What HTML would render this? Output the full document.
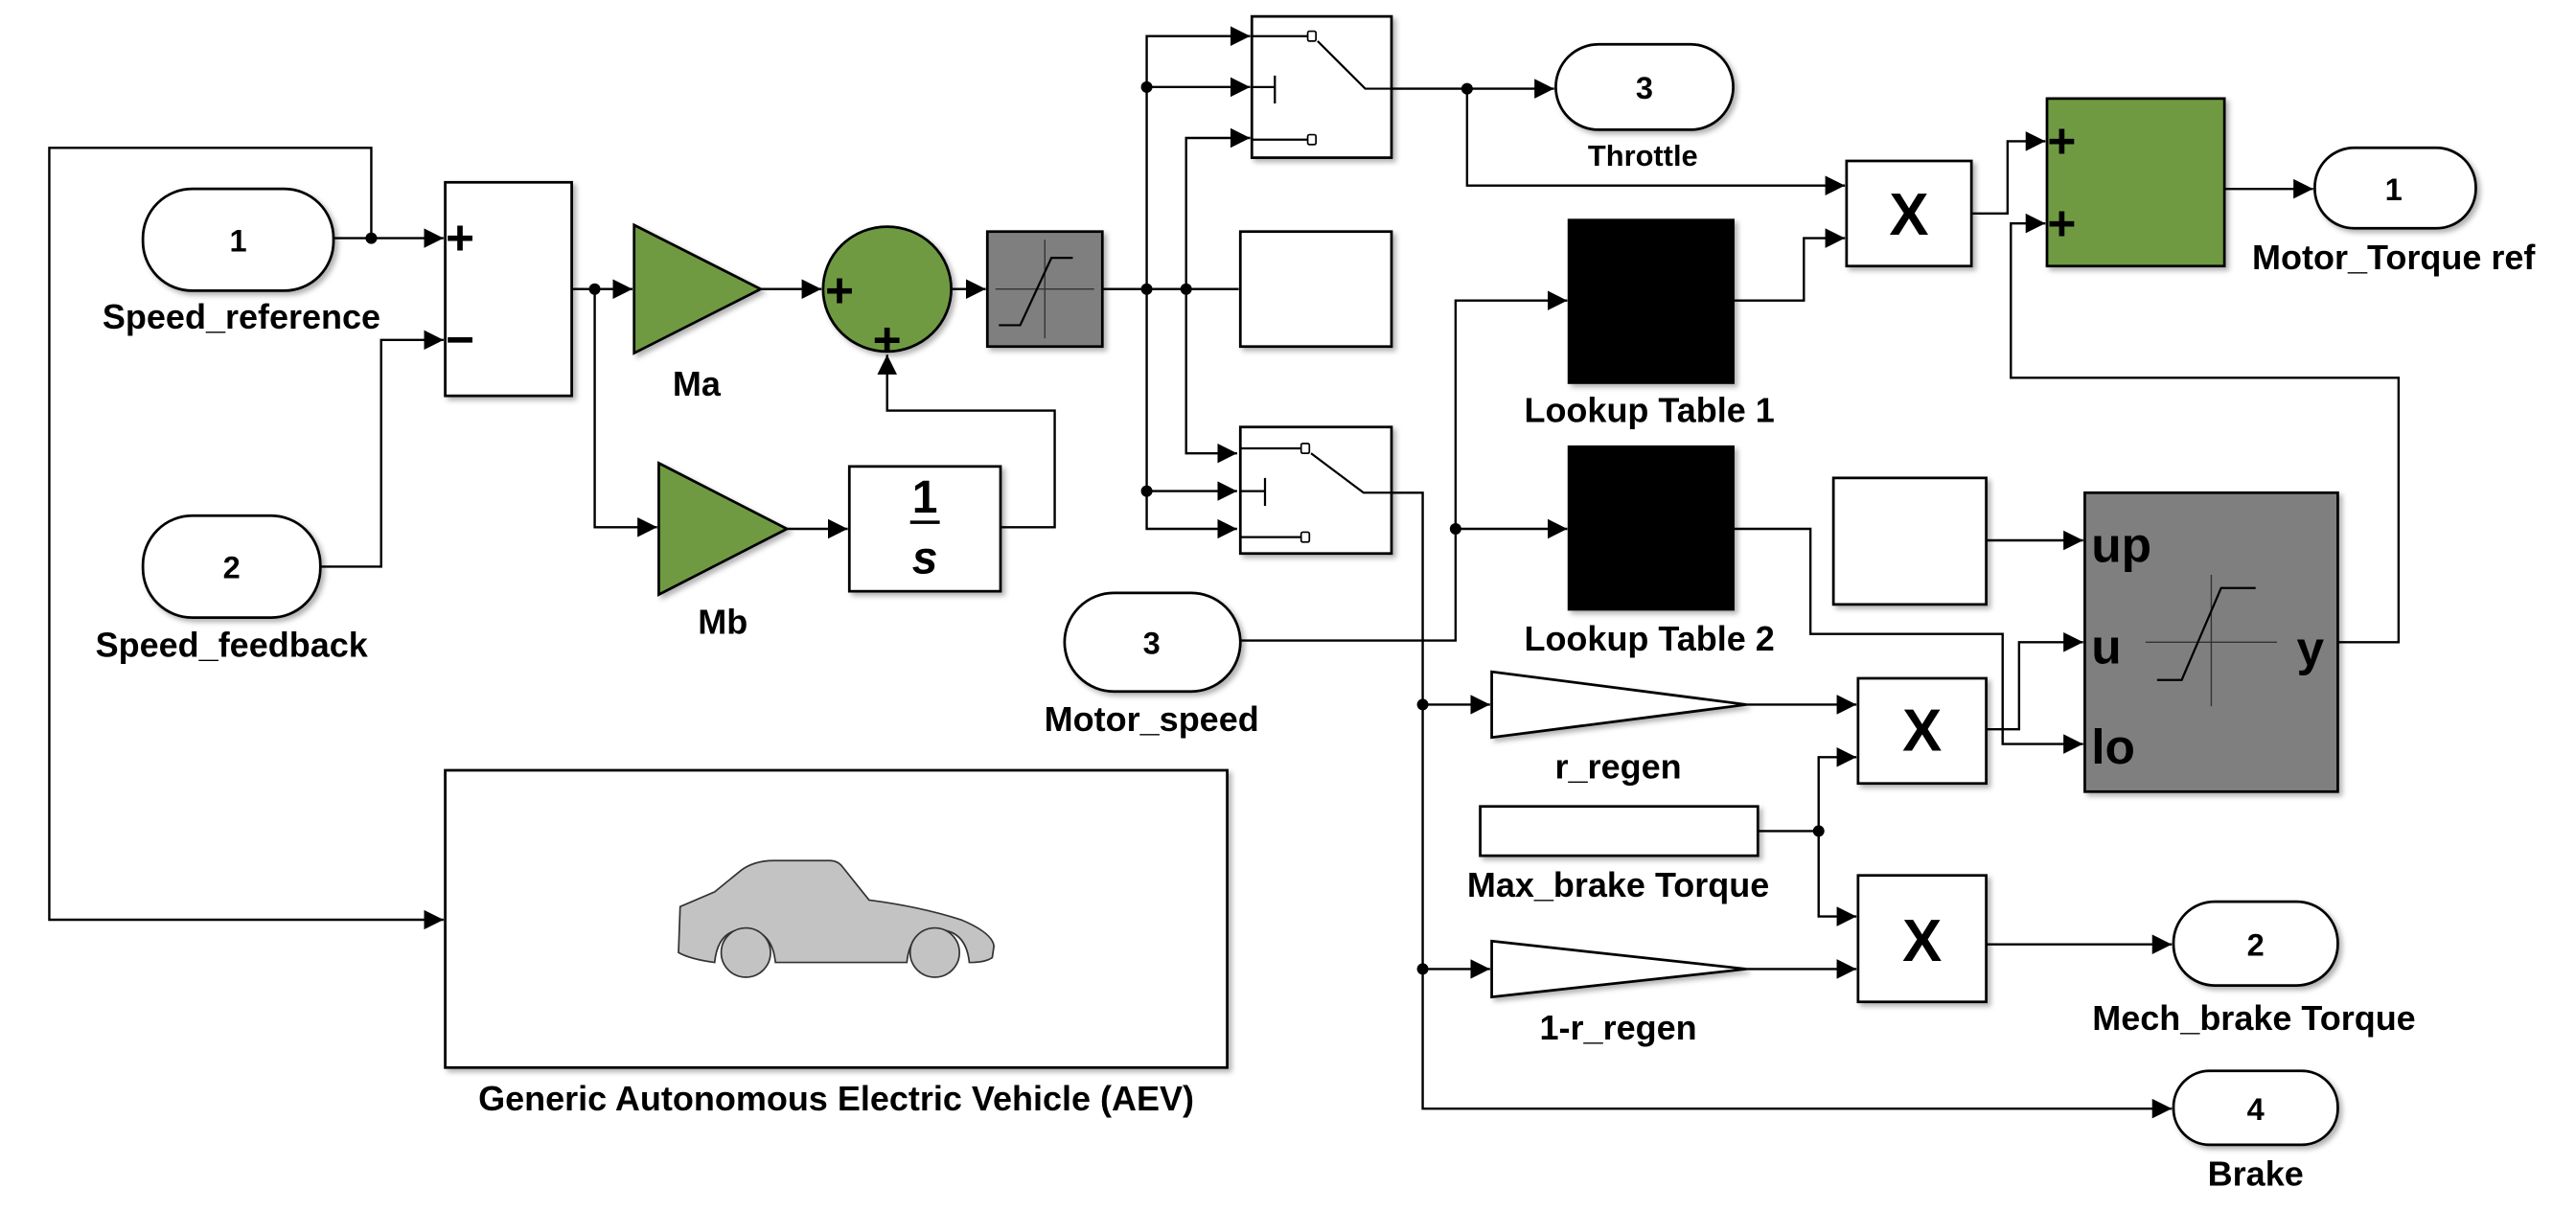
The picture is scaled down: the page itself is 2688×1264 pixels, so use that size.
<!DOCTYPE html>
<html><head><meta charset="utf-8"><style>
html,body{margin:0;padding:0;background:#fff;}
svg{display:block;}
text{font-family:"Liberation Sans",Arial,sans-serif;font-weight:bold;fill:#000;}
</style></head><body>
<svg width="2688" height="1264" viewBox="0 0 1568 737.33" preserveAspectRatio="none" xmlns="http://www.w3.org/2000/svg">
<defs>
<marker id="a" markerWidth="12" markerHeight="12" refX="12" refY="6" orient="auto" markerUnits="userSpaceOnUse">
<path d="M0,0 L12,6 L0,12 Z" fill="#000"/></marker>
<filter id="sh" x="-5%" y="-5%" width="115%" height="115%"><feDropShadow dx="2" dy="2" stdDeviation="1.5" flood-color="#000" flood-opacity="0.3"/></filter>
</defs>
<rect width="1568" height="737.33" fill="#fff"/>
<g fill="none" stroke="#000" stroke-width="1.4">
<path d="M203,145 H270" marker-end="url(#a)"/>
<path d="M226,145 V90 H30 V560 H270" marker-end="url(#a)"/>
<path d="M195,345 H232 V207 H270" marker-end="url(#a)"/>
<path d="M348,176 H385" marker-end="url(#a)"/>
<path d="M362,176 V321 H400" marker-end="url(#a)"/>
<path d="M463,176 H500" marker-end="url(#a)"/>
<path d="M479,322 H516" marker-end="url(#a)"/>
<path d="M609,321 H642 V250 H540 V216" marker-end="url(#a)"/>
<path d="M579,176 H600" marker-end="url(#a)"/>
<path d="M671,176 H754"/>
<path d="M698,176 V22 H761" marker-end="url(#a)"/>
<path d="M698,53 H761" marker-end="url(#a)"/>
<path d="M698,176 V322 H753" marker-end="url(#a)"/>
<path d="M698,299 H753" marker-end="url(#a)"/>
<path d="M722,176 V84 H761" marker-end="url(#a)"/>
<path d="M722,176 V276 H753" marker-end="url(#a)"/>
<path d="M847,54 H946" marker-end="url(#a)"/>
<path d="M893,54 V113 H1123" marker-end="url(#a)"/>
<path d="M1055,183 H1098 V145 H1123" marker-end="url(#a)"/>
<path d="M1200,130 H1222 V86 H1245" marker-end="url(#a)"/>
<path d="M1354,115 H1408" marker-end="url(#a)"/>
<path d="M1423,391 H1460 V230 H1224 V136 H1245" marker-end="url(#a)"/>
<path d="M755,390 H886 V183 H954" marker-end="url(#a)"/>
<path d="M886,322 H954" marker-end="url(#a)"/>
<path d="M847,300 H866 V675 H1322" marker-end="url(#a)"/>
<path d="M866,429 H907" marker-end="url(#a)"/>
<path d="M866,590 H907" marker-end="url(#a)"/>
<path d="M1063,429 H1130" marker-end="url(#a)"/>
<path d="M1063,590 H1130" marker-end="url(#a)"/>
<path d="M1070,506 H1107 V461 H1130" marker-end="url(#a)"/>
<path d="M1107,506 V558 H1130" marker-end="url(#a)"/>
<path d="M1208,575 H1322" marker-end="url(#a)"/>
<path d="M1209,329 H1268" marker-end="url(#a)"/>
<path d="M1055,322 H1102 V386 H1219 V453 H1268" marker-end="url(#a)"/>
<path d="M1208,444 H1229 V391 H1268" marker-end="url(#a)"/>
</g>
<g fill="#000">
<circle cx="226" cy="145" r="3.5"/><circle cx="362" cy="176" r="3.5"/>
<circle cx="698" cy="176" r="3.5"/><circle cx="722" cy="176" r="3.5"/>
<circle cx="698" cy="53" r="3.5"/><circle cx="698" cy="299" r="3.5"/>
<circle cx="893" cy="54" r="3.5"/><circle cx="886" cy="322" r="3.5"/>
<circle cx="866" cy="429" r="3.5"/><circle cx="866" cy="590" r="3.5"/>
<circle cx="1107" cy="506" r="3.5"/>
</g>
<g stroke="#000" stroke-width="1.6" filter="url(#sh)">
<rect x="87" y="115" width="116" height="62" rx="30" ry="30" fill="#fff"/>
<rect x="87" y="314" width="108" height="62" rx="30" ry="30" fill="#fff"/>
<rect x="648" y="361" width="107" height="60" rx="30" ry="30" fill="#fff"/>
<rect x="947" y="27" width="108" height="52" rx="26" ry="26" fill="#fff"/>
<rect x="1409" y="90" width="98" height="49" rx="24" ry="24" fill="#fff"/>
<rect x="1323" y="549" width="100" height="51" rx="25" ry="25" fill="#fff"/>
<rect x="1323" y="652" width="100" height="45" rx="22" ry="22" fill="#fff"/>
<rect x="271" y="111" width="77" height="130" fill="#fff"/>
<path d="M386,137 L386,215 L463,176 Z" fill="#709a43"/>
<path d="M401,282 L401,362 L479,322 Z" fill="#709a43"/>
<ellipse cx="540" cy="176" rx="39" ry="38" fill="#709a43"/>
<rect x="601" y="141" width="70" height="70" fill="#7f7f7f"/>
<rect x="517" y="284" width="92" height="76" fill="#fff"/>
<rect x="762" y="10" width="85" height="86" fill="#fff"/>
<rect x="755" y="141" width="92" height="70" fill="#fff"/>
<rect x="755" y="260" width="92" height="77" fill="#fff"/>
<rect x="955" y="134" width="100" height="99" fill="#000"/>
<rect x="955" y="272" width="100" height="99" fill="#000"/>
<rect x="1124" y="98" width="76" height="64" fill="#fff"/>
<rect x="1246" y="60" width="108" height="102" fill="#709a43"/>
<rect x="1116" y="291" width="93" height="77" fill="#fff"/>
<rect x="1269" y="300" width="154" height="182" fill="#7f7f7f"/>
<path d="M908,409 L908,449 L1063,429 Z" fill="#fff"/>
<path d="M908,573 L908,607 L1063,590 Z" fill="#fff"/>
<rect x="901" y="491" width="169" height="30" fill="#fff"/>
<rect x="1131" y="413" width="78" height="64" fill="#fff"/>
<rect x="1131" y="533" width="78" height="77" fill="#fff"/>
<rect x="271" y="469" width="476" height="181" fill="#fff"/>
</g>
<g stroke="#333" stroke-width="0.8" fill="none">
<path d="M606,176 H666 M636,146 V206"/>
<path d="M1306,391 H1386 M1346,350 V430"/>
</g>
<g stroke="#000" stroke-width="1.3" fill="none">
<path d="M608,198 H621 L640,157 H653"/>
<path d="M1313,414 H1328 L1352,358 H1373"/>
<path d="M762,22 H796 M802,25 L831,54 H847 M762,53 H776 M776,46 V63 M762,85 H796"/>
<path d="M755,273 H792 M798,276 L830,300 H847 M755,299 H770 M770,291 V308 M755,327 H792"/>
</g>
<g stroke="#000" stroke-width="1" fill="#fff">
<rect x="796" y="19" width="5" height="6" rx="1"/><rect x="796" y="82" width="5" height="6" rx="1"/>
<rect x="792" y="270" width="5" height="6" rx="1"/><rect x="792" y="324" width="5" height="6" rx="1"/>
</g>
<path d="M414,552 L435,543 L451,530 Q459,524 471,524 L505,524 Q510,524 513,528 L529,548 Q560,552 585,560 Q604,568 605,576 L604,583 Q600,586 590,586 Q588,566 570,566 Q554,566 552,586 L472,586 Q470,566 453,566 Q437,566 435,586 Q420,584 413,580 Z" fill="#c3c3c3" stroke="#333" stroke-width="1"/>
<circle cx="454" cy="580" r="15" fill="#c3c3c3" stroke="#333" stroke-width="1"/>
<circle cx="569" cy="580" r="15" fill="#c3c3c3" stroke="#333" stroke-width="1"/>
<g font-size="30">
<text x="280" y="155" text-anchor="middle">+</text>
<text x="280" y="217" text-anchor="middle">−</text>
<text x="511" y="187" text-anchor="middle">+</text>
<text x="540" y="217" text-anchor="middle">+</text>
<text x="1255" y="96" text-anchor="middle">+</text>
<text x="1255" y="146" text-anchor="middle">+</text>
</g>
<g font-size="36" text-anchor="middle">
<text x="1162" y="143">X</text>
<text x="1170" y="457">X</text>
<text x="1170" y="585">X</text>
</g>
<g font-size="30">
<text x="1273" y="342">up</text>
<text x="1273" y="404">u</text>
<text x="1273" y="465">lo</text>
<text x="1398" y="405">y</text>
</g>
<text x="563" y="312" font-size="28" text-anchor="middle" font-family="Liberation Serif">1</text>
<path d="M554,318 H572" stroke="#000" stroke-width="2"/>
<text x="563" y="349" font-size="28" text-anchor="middle" font-family="Liberation Serif" font-style="italic">s</text>
<g font-size="19" text-anchor="middle">
<text x="145" y="153">1</text><text x="141" y="352">2</text><text x="701" y="398">3</text>
<text x="1001" y="60">3</text><text x="1457" y="122">1</text><text x="1373" y="582">2</text><text x="1373" y="682">4</text>
</g>
<g font-size="21" text-anchor="middle">
<text x="147" y="200">Speed_reference</text>
<text x="141" y="400">Speed_feedback</text>
<text x="424" y="241">Ma</text>
<text x="440" y="386">Mb</text>
<text x="701" y="445">Motor_speed</text>
<text x="1000" y="101" font-size="18">Throttle</text>
<text x="1004" y="257">Lookup Table 1</text>
<text x="1004" y="396">Lookup Table 2</text>
<text x="985" y="474">r_regen</text>
<text x="985" y="546">Max_brake Torque</text>
<text x="985" y="633">1-r_regen</text>
<text x="1372" y="627">Mech_brake Torque</text>
<text x="1373" y="722">Brake</text>
<text x="1457" y="164">Motor_Torque ref</text>
<text x="509" y="676">Generic Autonomous Electric Vehicle (AEV)</text>
</g>
</svg>
</body></html>
